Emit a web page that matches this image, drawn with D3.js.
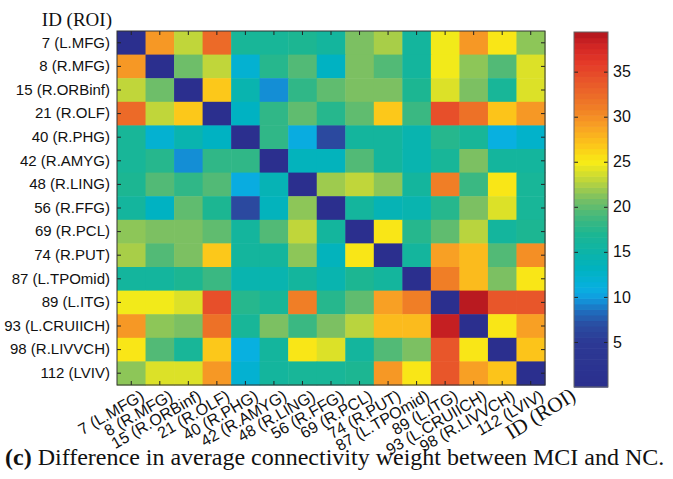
<!DOCTYPE html>
<html>
<head>
<meta charset="utf-8">
<script src="https://cdn.jsdelivr.net/npm/d3@7"></script>
<style>
  html, body { margin: 0; padding: 0; background: #fff; }
  svg { display: block; }
</style>
</head>
<body>
<svg id="chart" width="673" height="479"></svg>
<script>
// ROI labels shared by both axes
const rois = [
  "7 (L.MFG)", "8 (R.MFG)", "15 (R.ORBinf)", "21 (R.OLF)", "40 (R.PHG)",
  "42 (R.AMYG)", "48 (R.LING)", "56 (R.FFG)", "69 (R.PCL)", "74 (R.PUT)",
  "87 (L.TPOmid)", "89 (L.ITG)", "93 (L.CRUIICH)", "98 (R.LIVVCH)", "112 (LVIV)"
];

// Connectivity weight difference, one row per ROI
const row0  = [0, 29.5, 23, 32.5, 16.5, 16.5, 17, 16, 21, 22.3, 16, 24.8, 29.5, 25.3, 21.5];
const row1  = [29.5, 0, 20.5, 23, 12, 17.5, 19.5, 13, 21, 19.5, 16, 24.8, 21.5, 19.5, 24];
const row2  = [23, 20.5, 0, 26.8, 14.5, 9.5, 18, 20, 21, 21, 17, 24, 21, 16.5, 24];
const row3  = [32.5, 23, 26.8, 0, 13, 18, 20, 17.5, 20, 26.8, 18.5, 34.5, 32, 27, 29.5];
const row4  = [16.5, 12, 14.5, 13, 0, 18, 10.8, 6.5, 16, 16, 14.5, 17.5, 16.5, 11, 12.5];
const row5  = [16.5, 17.5, 9.5, 18, 18, 0, 13.5, 13.5, 19.5, 16, 14.5, 16.5, 21, 16, 16];
const row6  = [17, 19.5, 18, 19.5, 10.8, 14, 0, 22, 23, 21.5, 16, 31, 18.5, 25.3, 16.5];
const row7  = [16, 13, 20, 17, 6.5, 13.5, 21.5, 0, 16, 14, 14.5, 17.5, 21, 24, 16.5];
const row8  = [21.5, 21, 21, 20, 16, 19.5, 23, 16, 0, 25.3, 17.5, 20, 22.8, 16, 17];
const row9  = [22.3, 19.5, 21, 26.8, 16, 16, 21.5, 13.5, 25.3, 0, 16, 29, 27.5, 19.5, 30];
const row10 = [16, 16, 17, 18.5, 14.5, 14.5, 16, 14.5, 17, 16, 0, 31, 27.5, 21, 25.3];
const row11 = [24.8, 24.8, 24, 34.5, 17.5, 16.5, 31, 17.5, 20, 29, 31, 0, 39, 34, 34];
const row12 = [29.5, 21.5, 21, 32, 16.5, 21, 18.5, 21, 22.8, 27.5, 27.5, 38.5, 0, 25.3, 29];
const row13 = [25.3, 19.5, 16.5, 26.8, 11, 16, 25.3, 24, 16, 19.5, 21, 34, 25.3, 0, 27];
const row14 = [21.5, 24, 24, 29.5, 12, 16, 16.5, 16.5, 17, 29.5, 25.3, 34, 29, 27, 0];
const matrix = [row0, row1, row2, row3, row4, row5, row6, row7, row8, row9, row10, row11, row12, row13, row14];

// Colour bar range and ticks
const colorDomain = [0, 39.4];
const colorTicks = [5, 10, 15, 20, 25, 30, 35];

// Colour map stops (value -> colour)
const cmapValues = [0, 5, 7, 8.5, 10, 11, 13, 15, 17, 19, 21, 23, 25, 27, 29, 31, 34, 36, 38, 39.4];
const cmapColors = ["#2b2f8e", "#2c3994", "#2a4ea2", "#1f6ebf", "#0f9ee0", "#08b0e0", "#00b2c2",
  "#0cb4a8", "#1cb692", "#44b87c", "#7cc062", "#c0d63a", "#f8ec16", "#fcc41a", "#f8a024",
  "#f07e26", "#e8562a", "#e43a28", "#d02424", "#b0161e"];

const captionBold = "(c)";
const captionText = " Difference in average connectivity weight between MCI and NC.";
const axisTitle = "ID (ROI)";

const sans = "'Liberation Sans', Arial, sans-serif";
const serif = "'Liberation Serif', 'Times New Roman', serif";

const svg = d3.select("#chart");
const plot = { left: 117, right: 545, top: 31, bottom: 385 };

const x = d3.scaleBand().domain(rois).range([plot.left, plot.right]).padding(0);
const y = d3.scaleBand().domain(rois).range([plot.top, plot.bottom]).padding(0);
const color = d3.scaleLinear().domain(cmapValues).range(cmapColors).clamp(true);

// Heatmap cells
const cells = [];
matrix.forEach((r, i) => r.forEach((v, j) => cells.push({ row: rois[i], col: rois[j], v })));
svg.append("g").selectAll("rect").data(cells).join("rect")
  .attr("x", d => x(d.col))
  .attr("y", d => y(d.row))
  .attr("width", x.bandwidth() + 0.5)
  .attr("height", y.bandwidth() + 0.5)
  .attr("fill", d => color(d.v));

// Axes with inward ticks
function styleAxis(g) {
  g.select(".domain").remove();
  g.selectAll(".tick line").attr("stroke", "#222").attr("stroke-width", 1);
}

svg.append("g").attr("transform", `translate(${plot.left},0)`)
  .call(d3.axisLeft(y).tickSize(-4).tickPadding(7))
  .call(styleAxis)
  .call(g => g.selectAll("text").attr("fill", "#111")
    .style("font-family", sans).style("font-size", "15px"));

svg.append("g").attr("transform", `translate(${plot.right},0)`)
  .call(d3.axisRight(y).tickSize(-4).tickFormat(""))
  .call(styleAxis);

svg.append("g").attr("transform", `translate(0,${plot.top})`)
  .call(d3.axisTop(x).tickSize(-4).tickFormat(""))
  .call(styleAxis);

svg.append("g").attr("transform", `translate(0,${plot.bottom})`)
  .call(d3.axisBottom(x).tickSize(-4))
  .call(styleAxis)
  .call(g => g.selectAll("text")
    .attr("x", 0).attr("y", 0).attr("dy", 0)
    .attr("transform", "translate(14,14) rotate(-30)")
    .style("text-anchor", "end")
    .attr("fill", "#111")
    .style("font-family", sans).style("font-size", "16px"));

// Plot frame
svg.append("rect")
  .attr("x", plot.left).attr("y", plot.top)
  .attr("width", plot.right - plot.left).attr("height", plot.bottom - plot.top)
  .attr("fill", "none").attr("stroke", "#333").attr("stroke-width", 1);

// Axis titles
svg.append("text")
  .attr("x", 112).attr("y", 26)
  .attr("text-anchor", "end")
  .style("font-family", serif).style("font-size", "19px").attr("fill", "#111")
  .text(axisTitle);

svg.append("text")
  .attr("transform", "translate(577,399) rotate(-32)")
  .attr("text-anchor", "end")
  .style("font-family", serif).style("font-size", "21px").attr("fill", "#111")
  .text(axisTitle);

// Colour bar
const cb = { left: 574, right: 608, top: 32, bottom: 387 };
const cbScale = d3.scaleLinear().domain(colorDomain).range([cb.bottom, cb.top]);
const nBands = 64;
const bandVals = d3.range(nBands).map(k => colorDomain[0] + (k + 0.5) * (colorDomain[1] - colorDomain[0]) / nBands);
const bandH = (cb.bottom - cb.top) / nBands;
svg.append("g").selectAll("rect").data(bandVals).join("rect")
  .attr("x", cb.left)
  .attr("y", d => cbScale(d) - bandH / 2)
  .attr("width", cb.right - cb.left)
  .attr("height", bandH + 0.6)
  .attr("fill", d => color(d));

svg.append("g").attr("transform", `translate(${cb.right},0)`)
  .call(d3.axisRight(cbScale).tickValues(colorTicks).tickSize(-4).tickPadding(5))
  .call(styleAxis)
  .call(g => g.selectAll("text").attr("fill", "#111")
    .style("font-family", sans).style("font-size", "16px"));

svg.append("g").attr("transform", `translate(${cb.left},0)`)
  .call(d3.axisLeft(cbScale).tickValues(colorTicks).tickSize(-4).tickFormat(""))
  .call(styleAxis);

svg.append("rect")
  .attr("x", cb.left).attr("y", cb.top)
  .attr("width", cb.right - cb.left).attr("height", cb.bottom - cb.top)
  .attr("fill", "none").attr("stroke", "#666").attr("stroke-width", 1);

// Caption
const cap = svg.append("text")
  .attr("x", 5).attr("y", 465)
  .style("font-family", serif).style("font-size", "24px").attr("fill", "#111");
cap.append("tspan").style("font-weight", "bold").text(captionBold);
cap.append("tspan").text(captionText);
</script>
</body>
</html>
